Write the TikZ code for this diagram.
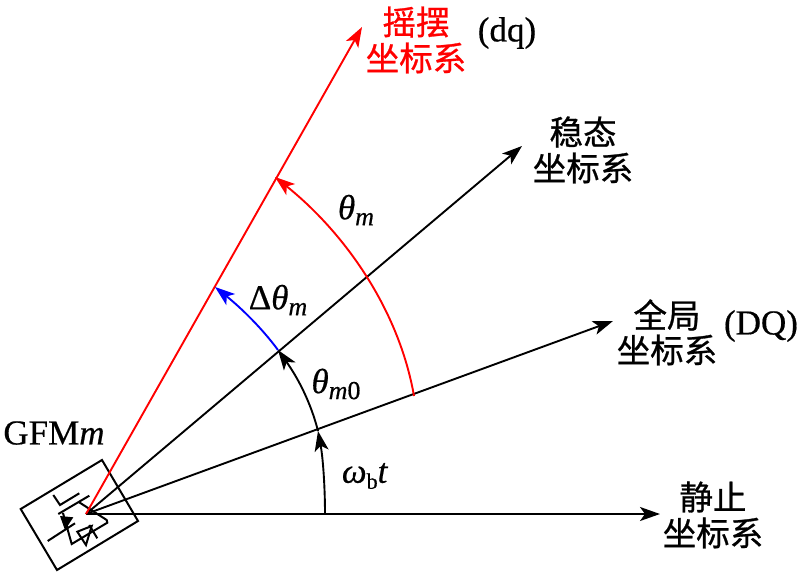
\documentclass[tikz,border=0pt]{standalone}
\usepackage{fontspec}
\setmainfont[RawFeature={embolden=0.5}]{Liberation Serif}
\newfontfamily\cjk[RawFeature={embolden=0.8}]{Noto Sans CJK SC}
\usetikzlibrary{arrows.meta}
\tikzset{
  ray/.style={line width=1.9pt,-{Stealth[length=20pt,width=14pt,inset=5pt]}},
  arcline/.style={line width=1.9pt,-{Stealth[length=20pt,width=14pt,inset=5pt]}},
  sym/.style={line width=2pt,line join=miter},
  lab/.style={inner sep=0pt,font=\fontsize{35}{37}\selectfont,align=center},
  cn/.style={inner sep=0pt,font=\fontsize{33.5}{37}\selectfont\cjk,align=center}
}
\definecolor{rd}{RGB}{255,0,0}
\definecolor{bl}{RGB}{0,0,255}
\begin{document}
\begin{tikzpicture}[x=1pt,y=-1pt]
\useasboundingbox (0,0) rectangle (800,574);
\coordinate (O) at (86,514);
\coordinate (Ered) at (362,27);
\coordinate (Est) at (522,146);
\coordinate (Egl) at (613,321);
\coordinate (Eho) at (660,514);
\coordinate (A0) at (325,514);
\coordinate (A1) at (318,431);
\coordinate (A2) at (278,350);
\coordinate (A3) at (215,287);
\coordinate (R0) at (414,396);
\coordinate (R1) at (275,177);
% frame
\draw[sym] (20.7,509) -- (102,460) -- (138,521) -- (57,570) -- cycle;
% converter symbol
\draw[sym] (53.3,495) -- (60,505) -- (79.3,493.3);
\draw[sym] (58.3,514) -- (89.3,495.7);
\draw[sym] (78.3,501.7) -- (106.7,520) -- (107.3,522.7) -- (71.7,544) -- (63,513);
\draw[sym] (47.7,541) -- (75,523.3);
\fill (60,516) -- (73.3,517.3) -- (65,530) -- cycle;
\draw[sym] (77.3,531.7) -- (91.7,526) -- (86,545) -- cycle;
\draw[sym] (89.3,525) -- (97.3,538.3);
% rays
\draw[ray] (O) -- (Eho);
\draw[ray] (O) -- (Egl);
\draw[ray] (O) -- (Est);
\draw[ray,rd] (O) -- (Ered);
% arcs
\draw[arcline] (A0) .. controls (325,487) and (323,458) .. (A1);
\draw[arcline] (A1) .. controls (311,403) and (298,378) .. (A2);
\draw[arcline,bl] (A2) .. controls (261,327) and (240,307) .. (A3);
\draw[arcline,rd] (R0) .. controls (399,310) and (345,233) .. (R1);
% labels
\node[cn,text=rd] (t1) at (416,22) {摇摆};
\node[cn,text=rd] (t2) at (416,58) {坐标系};
\node[lab] (t3) at (507,33) {(dq)};
\node[cn] (s1) at (583,132) {稳态};
\node[cn] (s2) at (583,168) {坐标系};
\node[cn] (g1) at (667,315) {全局};
\node[cn] (g2) at (667,350) {坐标系};
\node[lab] (g3) at (761,326) {(DQ)};
\node[cn] (h1) at (713,497) {静止};
\node[cn] (h2) at (713,533) {坐标系};
\node[lab] (gfm) at (54,433) {GFM\textit{m}};
\node[lab] (th) at (356,210) {\textit{θ\raisebox{-6pt}{\fontsize{26}{26}\selectfont m}}};
\node[lab] (dth) at (278,300) {Δ\textit{θ\raisebox{-6pt}{\fontsize{26}{26}\selectfont m}}};
\node[lab] (th0) at (336,384) {\textit{θ\raisebox{-6pt}{\fontsize{26}{26}\selectfont m}}\raisebox{-6pt}{\fontsize{26}{26}\selectfont 0}};
\node[lab] (wb) at (365,476) {\textit{ω}\raisebox{-6pt}{\fontsize{22}{22}\selectfont b}\textit{t}};
\end{tikzpicture}
\end{document}
